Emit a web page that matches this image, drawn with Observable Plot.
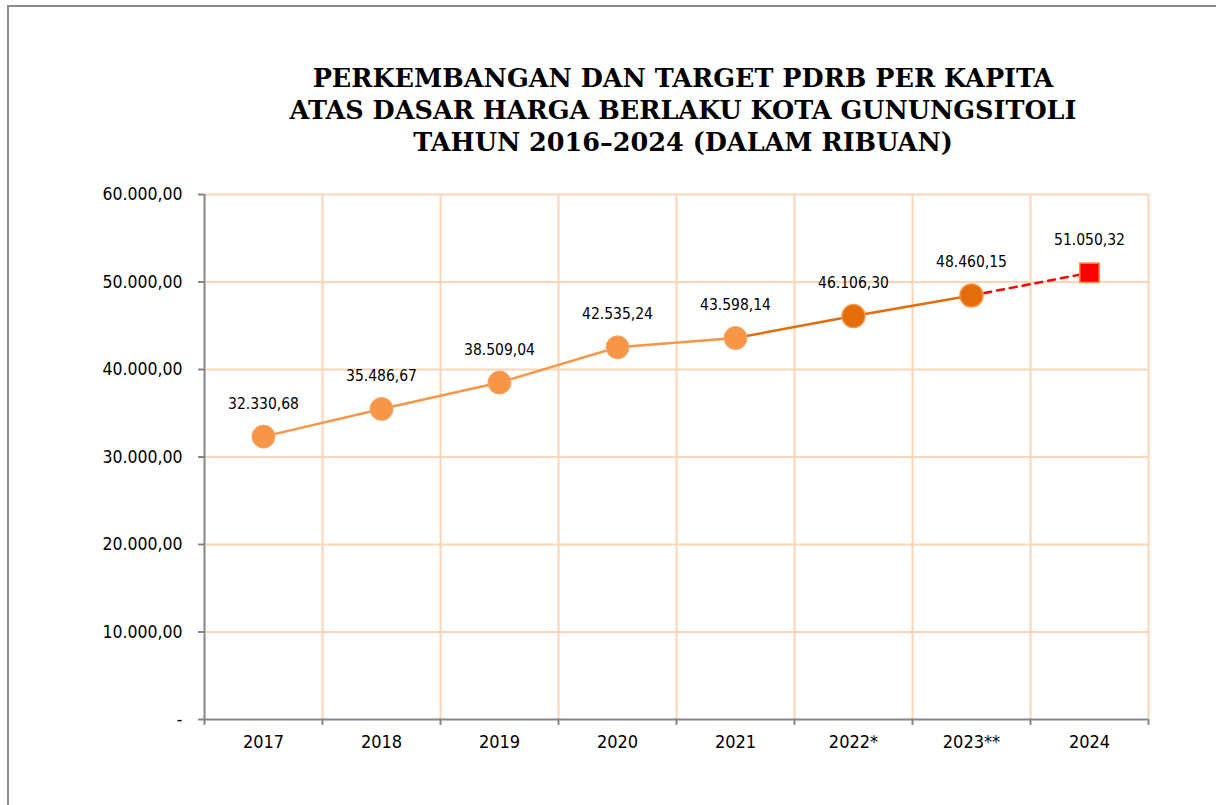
<!DOCTYPE html>
<html>
<head>
<meta charset="utf-8">
<script src="https://cdn.jsdelivr.net/npm/d3@7"></script>
<script src="https://cdn.jsdelivr.net/npm/@observablehq/plot@0.6"></script>
<style>
  html, body { margin: 0; padding: 0; background: #fff; }
  #page { position: relative; width: 1216px; height: 805px; overflow: hidden; }
  #frame { position: absolute; left: 7px; top: 5px; width: 1400px; height: 1000px;
           border-left: 2px solid #8c8c8c; border-top: 2px solid #8c8c8c; }
  #title { position: absolute; left: 183px; top: 62px; width: 1000px; text-align: center;
           font-family: "DejaVu Serif", serif; font-weight: bold; font-size: 25.5px; line-height: 32px; color: #000; }
  #chart { position: absolute; left: 0; top: 170px; }
</style>
</head>
<body>
<div id="page">
  <div id="frame"></div>
  <div id="title">PERKEMBANGAN DAN TARGET PDRB PER KAPITA<br>ATAS DASAR HARGA BERLAKU KOTA GUNUNGSITOLI<br>TAHUN 2016–2024 (DALAM RIBUAN)</div>
  <div id="chart"></div>
</div>
<script>
const categories = ["2017", "2018", "2019", "2020", "2021", "2022*", "2023**", "2024"];
const values = [32330.68, 35486.67, 38509.04, 42535.24, 43598.14, 46106.30, 48460.15, 51050.32];
const yTicks = [0, 10000, 20000, 30000, 40000, 50000, 60000];

const locale = d3.formatLocale({decimal: ",", thousands: ".", grouping: [3], currency: ["", ""]});
const fmt = locale.format(",.2f");

const data = categories.map((c, i) => ({cat: c, i, xi: i + 0.5, v: values[i]}));
const actualLight = data.slice(0, 5);
const actualDark = data.slice(4, 7);
const target = data.slice(6, 8);

const font = "'Liberation Sans Narrow', 'DejaVu Sans Condensed', 'Arial Narrow', sans-serif";
const grid = "#fcd5b5";
const axisGray = "#868686";
const light = "#f79646";
const dark = "#e46c0a";

const chart = Plot.plot({
  width: 1216,
  height: 600,
  marginLeft: 204,
  marginRight: 68,
  marginTop: 24,
  marginBottom: 51,
  style: {fontFamily: font, background: "transparent", overflow: "visible"},
  x: {domain: [0, 8]},
  y: {domain: [0, 60000]},
  marks: [
    Plot.ruleY(yTicks.filter(v => v > 0), {stroke: grid, strokeWidth: 2}),
    Plot.ruleX(d3.range(1, 9), {stroke: grid, strokeWidth: 2}),
    Plot.axisY({ticks: yTicks, tickSize: 6, tickPadding: 16, tickFormat: v => v === 0 ? "-" : fmt(v),
                fontSize: 17.5, color: "#000", stroke: axisGray, strokeWidth: 2, label: null}),
    Plot.axisX({ticks: d3.range(0.5, 8), tickSize: 0, tickPadding: 16, tickFormat: v => categories[Math.floor(v)],
                fontSize: 18, color: "#000", label: null}),
    Plot.axisX({ticks: d3.range(0, 9), tickSize: 6, tickFormat: () => "", stroke: axisGray, strokeWidth: 2, label: null}),
    Plot.ruleX([0], {stroke: axisGray, strokeWidth: 2}),
    Plot.ruleY([0], {stroke: axisGray, strokeWidth: 2}),
    Plot.line(actualLight, {x: "xi", y: "v", stroke: light, strokeWidth: 2.5}),
    Plot.line(actualDark, {x: "xi", y: "v", stroke: dark, strokeWidth: 2.5}),
    Plot.line(target, {x: "xi", y: "v", stroke: "#ff0000", strokeWidth: 2.5, strokeDasharray: "7,6"}),
    Plot.dot(data.slice(0, 5), {x: "xi", y: "v", r: 11.5, fill: light, stroke: "#f9a76a", strokeWidth: 1}),
    Plot.dot(data.slice(5, 7), {x: "xi", y: "v", r: 11.5, fill: dark, stroke: light, strokeWidth: 1.5}),
    Plot.dot(data.slice(7, 8), {x: "xi", y: "v", r: 11, symbol: "square", fill: "#ff0000", stroke: light, strokeWidth: 1.5}),
    Plot.text(data, {x: "xi", y: "v", text: d => fmt(d.v), dy: -33, fontSize: 15.5, fill: "#000"})
  ]
});
document.getElementById("chart").appendChild(chart);
</script>
</body>
</html>
